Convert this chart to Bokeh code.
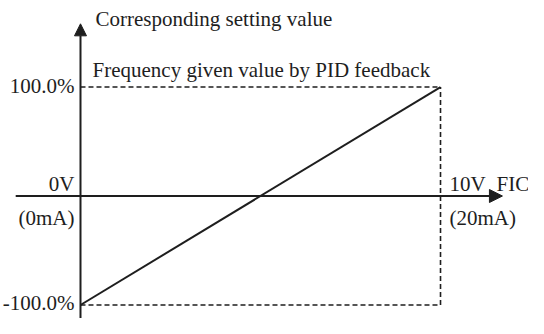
from bokeh.plotting import figure
from bokeh.models import Arrow, NormalHead, Label, Range1d
from bokeh.embed import file_html
from bokeh.resources import INLINE

# ---- data (input voltage in V, output setting in %) ----
x_input = [0, 10]
y_output = [-100, 100]
x_max = 10
y_max = 100
y_min = -100

# axis extents (data units)
x_axis_start = -1.8
x_axis_end = 11.72
y_axis_top = 158
y_axis_bottom = -120

title_text = "Corresponding setting value"
subtitle_text = "Frequency given value by PID feedback"
y_top_label = "100.0%"
y_bottom_label = "-100.0%"
origin_v = "0V"
origin_ma = "(0mA)"
end_v = "10V"
end_ma = "(20mA)"
x_axis_name = "FIC"

FONT = "Liberation Serif"
FS = "21px"
INK = "#1e1e1e"

p = figure(width=528, height=318, output_backend="svg", toolbar_location=None,
           x_range=Range1d(-2.222, 12.444), y_range=Range1d(-112.4, 179.4),
           min_border=0)
p.axis.visible = False
p.grid.visible = False
p.outline_line_color = None
p.background_fill_color = "white"
p.border_fill_color = "white"

# dashed frame
dash = "5 3"
p.line([x_input[0], x_max], [y_max, y_max], line_color=INK, line_width=1.6, line_dash=dash)
p.line([x_input[0], x_max], [y_min, y_min], line_color=INK, line_width=1.6, line_dash=dash)
p.line([x_max, x_max], [y_min, y_max], line_color=INK, line_width=1.6, line_dash=dash)

# characteristic line
p.line(x_input, y_output, line_color=INK, line_width=2)

# axes with arrows
p.add_layout(Arrow(x_start=x_axis_start, y_start=0, x_end=x_axis_end, y_end=0,
                   line_color=INK, line_width=2,
                   end=NormalHead(size=13, fill_color=INK, line_color=INK, line_width=1)))
p.add_layout(Arrow(x_start=0, y_start=y_axis_bottom, x_end=0, y_end=y_axis_top,
                   line_color=INK, line_width=2,
                   end=NormalHead(size=12, fill_color=INK, line_color=INK, line_width=1)))

def lab(text, x, y, xo, yo, align):
    p.add_layout(Label(x=x, y=y, x_offset=xo, y_offset=yo, text=text,
                       text_font=FONT, text_font_size=FS, text_color=INK,
                       text_align=align, text_baseline="alphabetic"))

lab(title_text, 0, y_axis_top, 15, 5, "left")
lab(subtitle_text, 0, y_max, 12, 17, "left")
lab(y_top_label, 0, y_max, -6, 1, "right")
lab(y_bottom_label, 0, y_min, -6, 2, "right")
lab(origin_v, 0, 0, -6, 12, "right")
lab(origin_ma, 0, 0, -6, -22, "right")
lab(end_v, x_max, 0, 9, 12, "left")
lab(x_axis_name, x_max, 0, 56, 12, "left")
lab(end_ma, x_max, 0, 9, -22, "left")

open("out.html", "w").write(file_html(p, INLINE))
